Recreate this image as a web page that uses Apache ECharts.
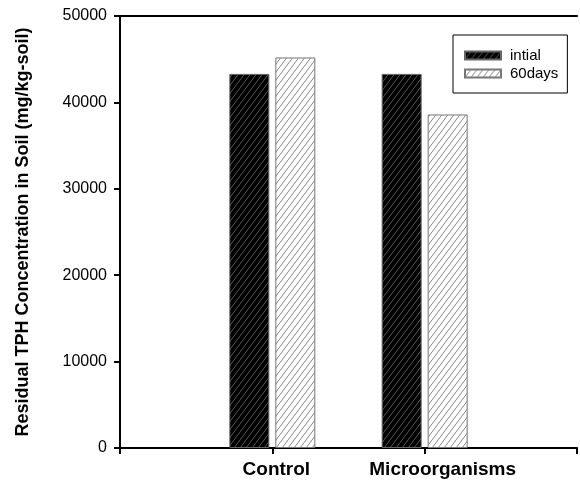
<!DOCTYPE html>
<html>
<head>
<meta charset="utf-8">
<script src="https://cdn.jsdelivr.net/npm/echarts@6/dist/echarts.min.js"></script>
<style>
html,body{margin:0;padding:0;background:#fff;}
#chart{width:580px;height:482px;}
</style>
</head>
<body>
<div id="chart"></div>
<script>
var categories = ['Control', 'Microorganisms'];
var seriesNames = ['intial', '60days'];
var initialValues = [43300, 43300];
var days60Values = [45200, 38600];
var yTicks = [0, 10000, 20000, 30000, 40000, 50000];
var yTitle = 'Residual TPH Concentration in Soil (mg/kg-soil)';

// label offsets (style only)
var labelPadLeft = [8, 36];

function hatch(bg, fg, w, h, lw) {
  var c = document.createElement('canvas');
  c.width = w; c.height = h;
  var ctx = c.getContext('2d');
  ctx.fillStyle = bg; ctx.fillRect(0, 0, w, h);
  ctx.strokeStyle = fg; ctx.lineWidth = lw;
  for (var k = -1; k <= 1; k++) {
    ctx.beginPath();
    ctx.moveTo(k * w, h);
    ctx.lineTo((k + 1) * w, 0);
    ctx.stroke();
  }
  return c;
}

var axisCats = [''].concat(categories.map(function (c, i) {
  return { value: c, textStyle: { padding: [0, 0, 0, labelPadLeft[i]] } };
})).concat(['']);
var topCats = [''].concat(categories).concat(['']);
function pad(arr) { return [null].concat(arr).concat([null]); }

var font = 'Liberation Sans, Arial, sans-serif';
var chart = echarts.init(document.getElementById('chart'));
chart.setOption({
  animation: false,
  backgroundColor: '#fff',
  grid: { left: 120, right: 3, top: 16, bottom: 34 },
  legend: {
    left: 453, top: 35,
    orient: 'vertical',
    data: seriesNames,
    itemWidth: 36, itemHeight: 8, itemGap: 3,
    padding: [13, 9, 12, 11],
    borderColor: '#000', borderWidth: 1,
    icon: 'rect',
    textStyle: { fontFamily: font, fontSize: 15, color: '#000', padding: [0, 0, 0, 4] }
  },
  xAxis: [{
    type: 'category',
    data: axisCats,
    boundaryGap: false,
    axisLine: { lineStyle: { color: '#000', width: 2 } },
    axisTick: { show: true, length: 6, inside: false, lineStyle: { color: '#000', width: 2 } },
    axisLabel: { interval: 0, margin: 12, fontFamily: font, fontSize: 19, fontWeight: 'bold', color: '#000' }
  }, {
    type: 'category',
    data: topCats,
    position: 'top',
    boundaryGap: false,
    axisLine: { show: true, lineStyle: { color: '#000', width: 2 } },
    axisTick: { show: false },
    axisLabel: { show: false }
  }],
  yAxis: {
    type: 'value',
    min: yTicks[0], max: yTicks[yTicks.length - 1], interval: yTicks[1] - yTicks[0],
    name: yTitle,
    nameLocation: 'middle',
    nameGap: 88,
    nameTextStyle: { fontFamily: font, fontSize: 18, fontWeight: 'bold', color: '#000' },
    axisLine: { show: true, lineStyle: { color: '#000', width: 2 } },
    axisTick: { show: true, length: 6, lineStyle: { color: '#000', width: 2 } },
    axisLabel: { margin: 13, fontFamily: font, fontSize: 16, color: '#000', formatter: function (v) { return String(v); } },
    splitLine: { show: false }
  },
  series: [{
    name: seriesNames[0],
    type: 'bar',
    data: pad(initialValues),
    barWidth: 40,
    barGap: '15%',
    itemStyle: {
      color: { image: hatch('#000', '#555', 6, 8, 1), repeat: 'repeat' },
      borderColor: '#666', borderWidth: 1
    }
  }, {
    name: seriesNames[1],
    type: 'bar',
    data: pad(days60Values),
    barWidth: 40,
    barGap: '15%',
    itemStyle: {
      color: { image: hatch('#fff', '#888', 6, 8, 1), repeat: 'repeat' },
      borderColor: '#777', borderWidth: 1
    }
  }]
});
</script>
</body>
</html>
